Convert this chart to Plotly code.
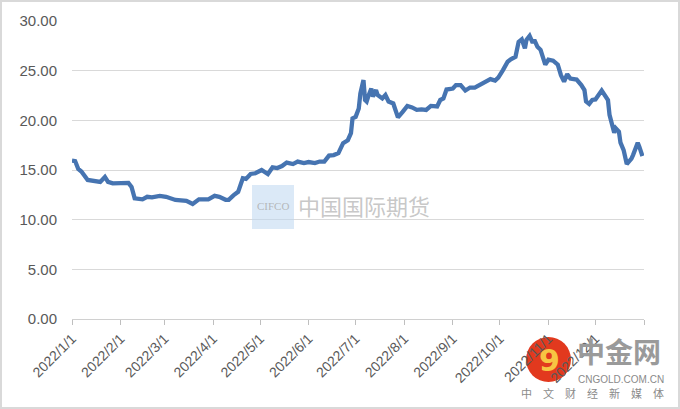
import plotly.graph_objects as go

dates = [
    "2022-01-01", "2022-01-03", "2022-01-05", "2022-01-07", "2022-01-11", "2022-01-14",
    "2022-01-19", "2022-01-22", "2022-01-24", "2022-01-27", "2022-02-06", "2022-02-08",
    "2022-02-10", "2022-02-15", "2022-02-18", "2022-02-21", "2022-02-26", "2022-03-02",
    "2022-03-08", "2022-03-15", "2022-03-19", "2022-03-23", "2022-03-29", "2022-04-02",
    "2022-04-05", "2022-04-09", "2022-04-11", "2022-04-14", "2022-04-17", "2022-04-20",
    "2022-04-22", "2022-04-25", "2022-04-28", "2022-05-02", "2022-05-05", "2022-05-06",
    "2022-05-09", "2022-05-12", "2022-05-15", "2022-05-18", "2022-05-22", "2022-05-25",
    "2022-05-29", "2022-06-01", "2022-06-05", "2022-06-08", "2022-06-11", "2022-06-14",
    "2022-06-17", "2022-06-20", "2022-06-23", "2022-06-26", "2022-06-28", "2022-06-29",
    "2022-07-01", "2022-07-03", "2022-07-04", "2022-07-06", "2022-07-07", "2022-07-08",
    "2022-07-09", "2022-07-11", "2022-07-12", "2022-07-14", "2022-07-15", "2022-07-18",
    "2022-07-20", "2022-07-22", "2022-07-25", "2022-07-27", "2022-07-28", "2022-07-31",
    "2022-08-03", "2022-08-06", "2022-08-09", "2022-08-12", "2022-08-15", "2022-08-18",
    "2022-08-22", "2022-08-24", "2022-08-26", "2022-08-28", "2022-09-01", "2022-09-03",
    "2022-09-06", "2022-09-09", "2022-09-12", "2022-09-15", "2022-09-18", "2022-09-21",
    "2022-09-25", "2022-09-28", "2022-09-30", "2022-10-03", "2022-10-06", "2022-10-08",
    "2022-10-11", "2022-10-13", "2022-10-15", "2022-10-17", "2022-10-18", "2022-10-20",
    "2022-10-22", "2022-10-23", "2022-10-25", "2022-10-27", "2022-10-29", "2022-10-30",
    "2022-11-01", "2022-11-04", "2022-11-07", "2022-11-09", "2022-11-11", "2022-11-13",
    "2022-11-15", "2022-11-19", "2022-11-22", "2022-11-24", "2022-11-25", "2022-11-27",
    "2022-11-29", "2022-12-01", "2022-12-05", "2022-12-07", "2022-12-09", "2022-12-10",
    "2022-12-12", "2022-12-13", "2022-12-14", "2022-12-16", "2022-12-17", "2022-12-19",
    "2022-12-21", "2022-12-24", "2022-12-25", "2022-12-28", "2022-12-29", "2022-12-31",
]
values = [
    15.95, 15.90, 15.10, 14.85, 14.00, 13.90,
    13.80, 14.30, 13.80, 13.65, 13.70, 13.30,
    12.15, 12.05, 12.30, 12.25, 12.40, 12.30,
    11.98, 11.90, 11.58, 12.05, 12.05, 12.40,
    12.30, 12.00, 12.00, 12.45, 12.80, 14.17,
    14.10, 14.60, 14.67, 15.00, 14.67, 14.60,
    15.27, 15.20, 15.40, 15.75, 15.60, 15.85,
    15.70, 15.80, 15.70, 15.85, 15.85, 16.45,
    16.50, 16.70, 17.70, 18.00, 18.70, 20.20,
    20.35, 21.20, 22.70, 24.05, 22.05, 21.90,
    22.40, 23.20, 22.40, 23.05, 22.55, 22.20,
    22.55, 21.90, 21.70, 20.70, 20.30, 20.85,
    21.45, 21.30, 21.05, 21.10, 21.05, 21.45,
    21.40, 22.05, 22.20, 23.10, 23.20, 23.55,
    23.55, 23.00, 23.30, 23.30, 23.55, 23.90,
    24.15, 24.00, 24.30, 25.05, 25.90, 26.15,
    26.40, 27.90, 28.15, 27.25, 28.10, 28.50,
    27.80, 28.10, 27.40, 27.10, 26.25, 25.60,
    26.10, 26.00, 25.60, 24.55, 23.90, 24.65,
    24.20, 24.10, 23.55, 23.05, 21.90, 21.65,
    22.05, 22.10, 23.00, 22.55, 22.05, 20.55,
    19.20, 18.75, 19.20, 18.85, 17.75, 17.00,
    15.60, 16.15, 16.50, 17.75, 17.35, 16.40,
]

tick_dates = ["2022-%02d-01" % m for m in range(1, 13)] + ["2023-01-01"]
tick_labels = ["2022/%d/1" % m for m in range(1, 13)] + [""]
y_ticks = [0, 5, 10, 15, 20, 25, 30]

W, H = 680, 409
L, R, T, B = 72, 36, 21, 90
PW, PH = W - L - R, H - T - B


def px(x):
    return (x - L) / PW


def py(y):
    return (H - B - y) / PH


fig = go.Figure()
fig.add_trace(go.Scatter(
    x=dates, y=values, mode="lines",
    line=dict(color="#4674B1", width=4.3, shape="linear"),
    hoverinfo="x+y", showlegend=False,
))

fig.update_layout(
    width=W, height=H,
    margin=dict(l=L, r=R, t=T, b=B, autoexpand=False),
    paper_bgcolor="white", plot_bgcolor="white",
    font=dict(family="Liberation Sans, Arial, sans-serif", color="#595959"),
    xaxis=dict(
        type="date", range=["2022-01-01", "2023-01-01"], automargin=False,
        tickmode="array", tickvals=tick_dates, ticktext=tick_labels,
        tickangle=-45, tickfont=dict(size=14, color="#595959"),
        ticks="outside", ticklen=5, tickcolor="#bfbfbf", tickwidth=1,
        showline=True, linecolor="#d0d0d0", linewidth=1,
        showgrid=False, zeroline=False,
    ),
    yaxis=dict(
        range=[0, 30], tickmode="array", tickvals=y_ticks, automargin=False,
        tickformat=".2f", tickfont=dict(size=15, color="#595959"),
        showgrid=True, gridcolor="#d9d9d9", gridwidth=1,
        showline=False, zeroline=False, ticks="", ticklabelstandoff=14,
    ),
)

shapes = [
    dict(type="rect", xref="paper", yref="paper",
         x0=px(1), x1=px(679), y0=py(408), y1=py(1),
         line=dict(color="#d9d9d9", width=2), fillcolor="rgba(0,0,0,0)", layer="below"),
    dict(type="rect", xref="paper", yref="paper",
         x0=px(252), x1=px(294), y0=py(229), y1=py(185),
         line=dict(width=0), fillcolor="rgba(190,215,240,0.55)", layer="above"),
    dict(type="circle", xref="paper", yref="paper",
         x0=px(526), x1=px(571), y0=py(382), y1=py(337),
         line=dict(width=0), fillcolor="#E2391E", layer="below"),
]
fig.update_layout(shapes=shapes)

annotations = [
    dict(text="CIFCO", x=px(273), y=py(206), xref="paper", yref="paper",
         yanchor="middle", showarrow=False,
         font=dict(size=11, color="rgba(170,170,170,0.8)", family="Liberation Serif, serif")),
    dict(text="中国国际期货", x=px(296), y=py(205), xref="paper", yref="paper",
         xanchor="left", yanchor="middle", showarrow=False,
         font=dict(size=22, color="rgba(185,185,185,0.8)", family="Noto Sans CJK SC")),
    dict(text="<b>9</b>", x=px(549), y=py(360), xref="paper", yref="paper",
         xanchor="center", yanchor="middle",
         showarrow=False, font=dict(size=30, color="#F7C543", family="DejaVu Sans")),
    dict(text="<b>中金网</b>", x=px(575), y=py(351), xref="paper", yref="paper",
         xanchor="left", yanchor="middle", showarrow=False,
         font=dict(size=28, color="#9a9a9a", family="Noto Sans CJK SC")),
    dict(text="CNGOLD.COM.CN", x=px(666), y=py(379), xref="paper", yref="paper",
         xanchor="right", yanchor="middle", showarrow=False,
         font=dict(size=10, color="#8a8a8a")),
    dict(text="中　文　财　经　新　媒　体", x=px(666), y=py(393), xref="paper", yref="paper",
         xanchor="right", yanchor="middle", showarrow=False,
         font=dict(size=11, color="#8a8a8a", family="Noto Sans CJK SC")),
]
fig.update_layout(annotations=annotations)

fig.write_html("out.html", config={"displayModeBar": False},
               post_script="document.body.style.margin='0';document.body.style.overflow='hidden';")
